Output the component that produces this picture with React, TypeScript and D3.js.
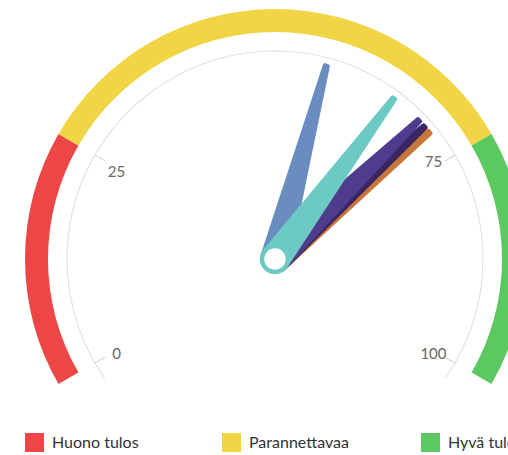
import React from "react";
import * as d3 from "d3";

const bandNames = ["Huono tulos", "Parannettavaa", "Hyvä tulos"];
const bandFrom = [0, 25, 75];
const bandTo = [25, 75, 100];
const bandColors = ["#EC4646", "#F1D545", "#5CC860"];

const tickValues = [0, 25, 75, 100];

const needleValues = [71.1, 70.2, 69.2, 56.2, 65.2];
const needleColors = ["#C8773A", "#3B2662", "#4E3D8F", "#6A8DC0", "#6DC9C3"];

const W = 508;
const H = 455;
const cx = 275;
const cy = 259;

export default function App() {
  const angle = d3.scaleLinear().domain([0, 100]).range([(-120 * Math.PI) / 180, (120 * Math.PI) / 180]);
  const band = d3.arc<any>().innerRadius(227).outerRadius(250);
  const axisArc = d3.arc<any>().innerRadius(208).outerRadius(208)({
    startAngle: (-125 * Math.PI) / 180,
    endAngle: (125 * Math.PI) / 180,
  } as any);

  const pt = (a: number, r: number) => [r * Math.sin(a), -r * Math.cos(a)];

  const needlePath = (v: number) => {
    const a = angle(v);
    const len = 200;
    const bw = 13;
    const tw = 1.6;
    const px = Math.cos(a);
    const py = Math.sin(a);
    const [tx, ty] = pt(a, len);
    const pts = [
      [px * bw, py * bw],
      [tx + px * tw, ty + py * tw],
      [tx - px * tw, ty - py * tw],
      [-px * bw, -py * bw],
    ];
    return d3.line()(pts as any) + "Z";
  };

  const legendX = [25, 222, 421];

  return (
    <svg width={W} height={H} style={{ position: "absolute", left: 0, top: 0, fontFamily: "Lato, sans-serif" }}>
      <rect width={W} height={H} fill="#fff" />
      <g transform={`translate(${cx},${cy})`}>
        {bandFrom.map((f, i) => (
          <path
            key={i}
            d={band({ startAngle: angle(f), endAngle: angle(bandTo[i]) } as any) as string}
            fill={bandColors[i]}
          />
        ))}
        <path d={axisArc as string} fill="none" stroke="#e2e2e2" strokeWidth={1.2} />
        {tickValues.map((t) => {
          const a = angle(t);
          const [x1, y1] = pt(a, 208);
          const [x2, y2] = pt(a, 196);
          const [lx, ly0] = pt(a, 183);
          const ly = ly0 + (ly0 < 0 ? (lx < 0 ? 4 : -6) : 3);
          return (
            <g key={t}>
              <line x1={x1} y1={y1} x2={x2} y2={y2} stroke="#d8d8d8" strokeWidth={1.2} />
              <text x={lx} y={ly} dy="0.35em" textAnchor="middle" fontSize={15} fill="#666">
                {t}
              </text>
            </g>
          );
        })}
        {needleValues.map((v, i) => (
          <path
            key={i}
            d={needlePath(v)}
            fill={needleColors[i]}
            stroke={needleColors[i]}
            strokeWidth={4}
            strokeLinejoin="round"
          />
        ))}
        <circle r={13} fill="#fff" stroke="#6DC9C3" strokeWidth={4.5} />
      </g>
      {bandNames.map((n, i) => (
        <g key={n} transform={`translate(${legendX[i]},433)`}>
          <rect width={19} height={19} fill={bandColors[i]} />
          <text x={27} y={9.5} dy="0.36em" fontSize={16} fill="#333">
            {n}
          </text>
        </g>
      ))}
    </svg>
  );
}
